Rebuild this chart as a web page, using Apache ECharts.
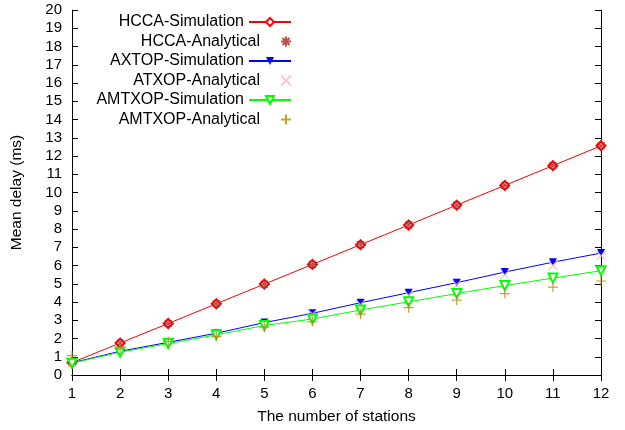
<!DOCTYPE html>
<html><head><meta charset="utf-8">
<script src="https://cdn.jsdelivr.net/npm/echarts@6/dist/echarts.min.js"></script>
<style>html,body{margin:0;padding:0;background:#fff}#c{width:625px;height:430px}</style>
</head><body><div id="c"></div>
<script>
var stations = [1,2,3,4,5,6,7,8,9,10,11,12];
var hccaSim = [0.68,1.75,2.82,3.9,4.98,6.06,7.14,8.22,9.31,10.39,11.47,12.56];
var hccaAna = [0.68,1.75,2.82,3.9,4.98,6.06,7.14,8.22,9.31,10.39,11.47,12.56];
var axtopSim = [0.67,1.3,1.79,2.29,2.87,3.38,3.96,4.51,5.06,5.64,6.18,6.68];
var atxopAna = [0.68,1.3,1.8,2.25,2.84,3.34,3.86,4.37,4.95,5.49,6.0,6.54];
var amtxopSim = [0.65,1.25,1.72,2.2,2.71,3.07,3.56,4.01,4.46,4.9,5.31,5.71];
var amtxopAna = [1.06,1.42,1.84,2.11,2.62,2.93,3.34,3.69,4.1,4.46,4.82,5.15];
var yTicks = [0,20,1];

function pairs(v){ return stations.map(function(x,i){ return [x, v[i]]; }); }
var FONT = 'Liberation Sans';
var PLUS = 'path://M5,0L5,10M0,5L10,5';
var CROSS = 'path://M0,0L10,10M10,0L0,10';
var STAR = 'path://M5,0L5,10M0,5L10,5M1.5,1.5L8.5,8.5M8.5,1.5L1.5,8.5';

var names = ['HCCA-Simulation','HCCA-Analytical','AXTOP-Simulation','ATXOP-Analytical','AMTXOP-Simulation','AMTXOP-Analytical'];
var legends = names.map(function(n,i){
  return {
    data:[n], orient:'vertical', align:'right', right:333, top:14+i*19.5,
    itemWidth:42, itemHeight:10, itemGap:0, padding:0,
    textStyle:{fontFamily:FONT,fontSize:16,color:'#000'},
    selectedMode:false
  };
});

var chart = echarts.init(document.getElementById('c'), null, {renderer:'canvas'});
chart.setOption({
  animation:false,
  backgroundColor:'#fff',
  legend: legends,
  grid:{left:72,right:24,top:10,bottom:51},
  xAxis:[{
    type:'value', min:1, max:12, interval:1,
    name:'The number of stations', nameLocation:'middle', nameGap:34,
    nameTextStyle:{fontFamily:FONT,fontSize:15.5,color:'#000'},
    axisLine:{lineStyle:{color:'#000',width:1}},
    axisTick:{inside:true,length:6,lineStyle:{color:'#000'}},
    axisLabel:{fontFamily:FONT,fontSize:15,color:'#000',margin:11},
    splitLine:{show:false}
  },{
    type:'value', min:1, max:12, interval:1, position:'top',
    axisLine:{lineStyle:{color:'#000',width:1}},
    axisTick:{inside:true,length:6,lineStyle:{color:'#000'}},
    axisLabel:{show:false}, splitLine:{show:false}
  }],
  yAxis:[{
    type:'value', min:yTicks[0], max:yTicks[1], interval:yTicks[2],
    name:'Mean delay (ms)', nameLocation:'middle', nameGap:47,
    nameTextStyle:{fontFamily:FONT,fontSize:15.5,color:'#000'},
    axisLine:{show:true,lineStyle:{color:'#000',width:1}},
    axisTick:{show:true,inside:true,length:6,lineStyle:{color:'#000'}},
    axisLabel:{fontFamily:FONT,fontSize:15,color:'#000',margin:10},
    splitLine:{show:false}
  },{
    type:'value', min:yTicks[0], max:yTicks[1], interval:yTicks[2], position:'right',
    axisLine:{show:true,lineStyle:{color:'#000',width:1}},
    axisTick:{show:true,inside:true,length:6,lineStyle:{color:'#000'}},
    axisLabel:{show:false}, splitLine:{show:false}
  }],
  series:[
    {name:names[0],type:'line',data:pairs(hccaSim),symbol:'emptyDiamond',symbolSize:9,z:2,
     lineStyle:{color:'#ff0000',width:1},itemStyle:{color:'#ff0000',borderColor:'#ff0000',borderWidth:1}},
    {name:names[1],type:'scatter',data:pairs(hccaAna),symbol:STAR,symbolSize:10,z:5,
     itemStyle:{color:'rgba(0,0,0,0)',borderColor:'#b22222',borderWidth:1.1}},
    {name:names[2],type:'line',data:pairs(axtopSim),symbol:'triangle',symbolRotate:180,symbolSize:8,z:6,
     lineStyle:{color:'#0000ff',width:1},itemStyle:{color:'#0000ff'}},
    {name:names[3],type:'scatter',data:pairs(atxopAna),symbol:CROSS,symbolSize:9,z:7,
     itemStyle:{color:'rgba(0,0,0,0)',borderColor:'#ffb6c1',borderWidth:1.2}},
    {name:names[4],type:'line',data:pairs(amtxopSim),symbol:'emptyTriangle',symbolRotate:180,symbolSize:9,z:8,
     lineStyle:{color:'#00ff00',width:1},itemStyle:{color:'#00ff00',borderColor:'#00ff00',borderWidth:1.5}},
    {name:names[5],type:'scatter',data:pairs(amtxopAna),symbol:PLUS,symbolSize:10,z:9,
     itemStyle:{color:'rgba(0,0,0,0)',borderColor:'#b8860b',borderWidth:1.2}}
  ]
});
</script></body></html>
